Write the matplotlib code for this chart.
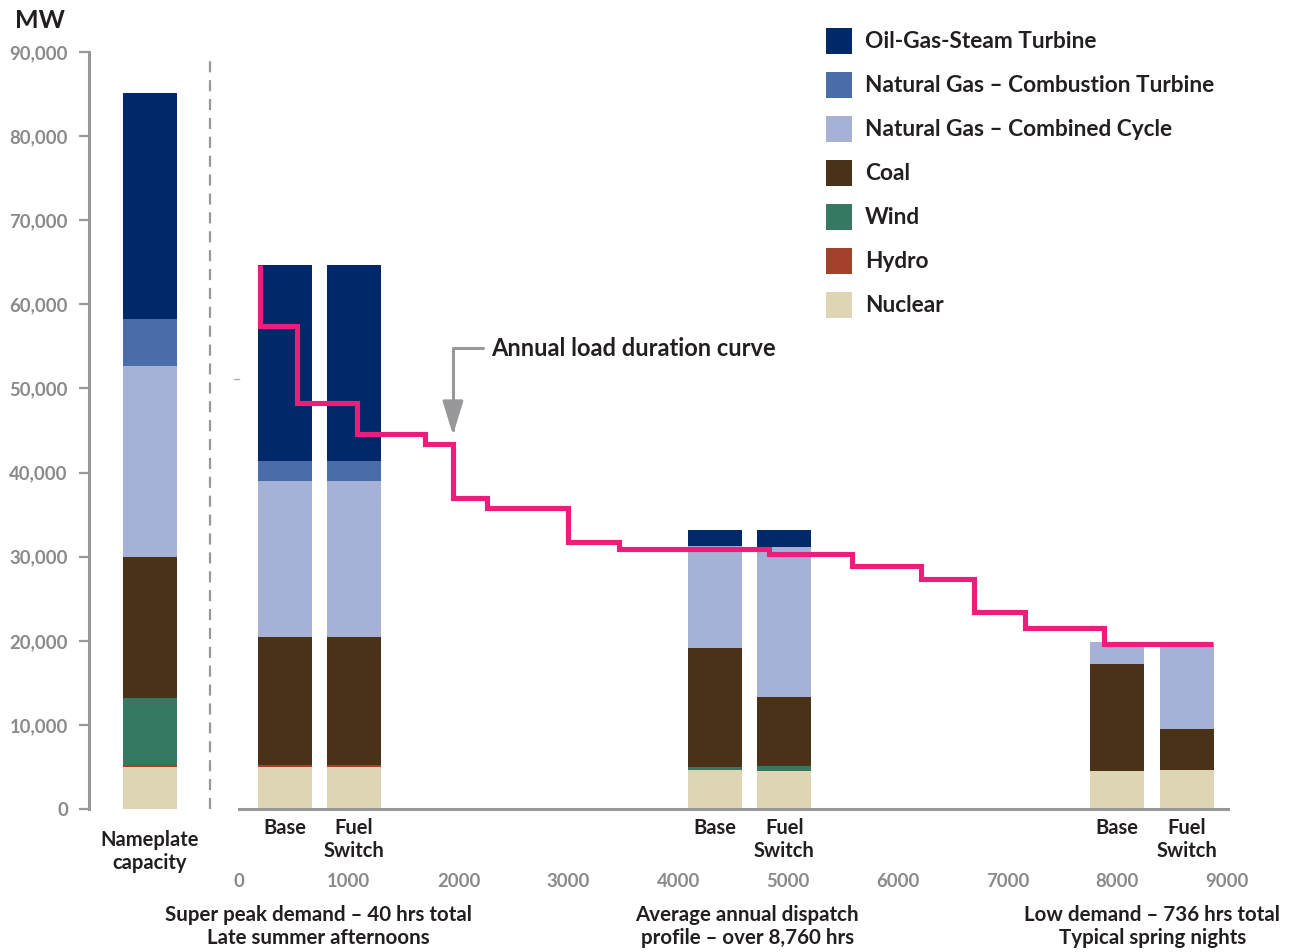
import matplotlib
matplotlib.use("Agg")
import matplotlib.pyplot as plt
import numpy as np

plt.rcParams['font.family'] = ['Lato', 'DejaVu Sans']

# ---------------- data ----------------
sources = ["Nuclear", "Hydro", "Wind", "Coal",
           "Natural Gas – Combined Cycle", "Natural Gas – Combustion Turbine",
           "Oil-Gas-Steam Turbine"]
colors = ["#ddd5b4", "#a5402a", "#377863", "#4a3218", "#a5b1d5", "#4a6ca8", "#012868"]

# bar positions (hours on the x axis; nameplate sits left of zero)
bar_pos = [-811, 419, 1047, 4335, 4968, 7996, 8634]
bar_labels = ["Nameplate\ncapacity", "Base", "Fuel\nSwitch", "Base", "Fuel\nSwitch", "Base", "Fuel\nSwitch"]

# MW by source for each bar (order = sources)
nuclear = [5000, 5000, 5000, 4640, 4520, 4560, 4640]
hydro   = [250, 250, 250, 0, 0, 0, 0]
wind    = [8000, 0, 0, 350, 630, 0, 0]
coal    = [16750, 15250, 15250, 14190, 8200, 12640, 4870]
ngcc    = [22700, 18550, 18550, 12100, 17840, 2620, 10090]
ngct    = [5550, 2350, 2350, 0, 0, 0, 0]
ogst    = [26900, 23300, 23300, 1900, 1980, 0, 0]

# annual load duration curve (hours, MW), steps-post
ldc_hours = [191, 191, 528, 1075, 1694, 1949, 2259, 2996, 3461, 4827, 5583, 6211, 6694, 7158, 7878, 8871]
ldc_mw    = [64700, 57430, 48280, 44590, 43400, 36980, 35790, 31750, 30920, 30320, 28890, 27350,
             23420, 21520, 19620, 19620]

xticks = [0, 1000, 2000, 3000, 4000, 5000, 6000, 7000, 8000, 9000]
yticks = [0, 10000, 20000, 30000, 40000, 50000, 60000, 70000, 80000, 90000]

group_labels = ["Super peak demand – 40 hrs total\nLate summer afternoons",
                "Average annual dispatch\nprofile – over 8,760 hrs",
                "Low demand – 736 hrs total\nTypical spring nights"]
group_x = [725, 4630, 8320]

# ---------------- figure ----------------
W, H = 1293, 952
fig = plt.figure(figsize=(W / 100, H / 100), dpi=100)
ax = fig.add_axes([89 / W, 1 - 809 / H, (1228 - 89) / W, (809 - 52) / H])

px_per_h = 0.10978
ax.set_xlim(-(239 - 89) / px_per_h, (1228 - 239) / px_per_h)
ax.set_ylim(0, 90000)

TXT = "#231f20"
GRAY = "#98989b"

stack = [nuclear, hydro, wind, coal, ngcc, ngct, ogst]
bottom = np.zeros(len(bar_pos))
for vals, c, name in zip(stack, colors, sources):
    ax.bar(bar_pos, vals, width=492, bottom=bottom, color=c, linewidth=0, zorder=2)
    bottom += np.array(vals)

ax.plot(ldc_hours, ldc_mw, drawstyle="steps-post", color="#ec1e7b", lw=3.7,
        solid_joinstyle="miter", solid_capstyle="butt", zorder=4)

# dashed separator
ax.plot([-264, -264], [0, 89000], color=GRAY, lw=1.6, dashes=(5, 3.5), zorder=1, clip_on=False)
# small stray tick seen in the original
ax.plot([-45, 0], [51130, 51130], color="#b0b0b2", lw=1.0, zorder=1)

# spines
for s in ["top", "right"]:
    ax.spines[s].set_visible(False)
ax.spines["left"].set_color(GRAY)
ax.spines["left"].set_linewidth(2.2)
ax.spines["bottom"].set_color(GRAY)
ax.spines["bottom"].set_linewidth(2.2)
ax.spines["bottom"].set_bounds(0, 9009)

ax.set_yticks(yticks)
ax.set_yticklabels([f"{v:,}" for v in yticks])
ax.tick_params(axis="y", length=7.2, width=1.6, color=GRAY, pad=8,
               labelsize=13.3, labelcolor="#8a8a8c")
for t in ax.get_yticklabels():
    t.set_fontweight("bold")

ax.set_xticks(xticks)
ax.set_xticklabels([str(v) for v in xticks])
ax.tick_params(axis="x", length=0, pad=46, labelsize=13.3, labelcolor="#8a8a8c")
for t in ax.get_xticklabels():
    t.set_fontweight("bold")

# bar labels
for i, (x, lab) in enumerate(zip(bar_pos, bar_labels)):
    off = -15 if i == 0 else -6.5
    ax.annotate(lab, xy=(x, 0), xycoords="data", xytext=(0, off), textcoords="offset points",
                ha="center", va="top", fontsize=14.5, fontweight="bold", color=TXT,
                linespacing=1.2)

# group labels
for x, lab in zip(group_x, group_labels):
    ax.annotate(lab, xy=(x, 0), xycoords="data", xytext=(0, -69), textcoords="offset points",
                ha="center", va="top", fontsize=14.8, fontweight="bold", color=TXT,
                linespacing=1.22)

# MW label
fig.text(15 / W, 1 - 21 / H, "MW", fontsize=18, fontweight="bold", color=TXT, va="center", ha="left")

# annotation
ax.annotate("Annual load duration curve", xy=(1949, 44470), xytext=(2295, 54800),
            fontsize=17, fontweight="bold", color=TXT, va="center", ha="left",
            arrowprops=dict(arrowstyle="-|>,head_length=1.3,head_width=0.4",
                            connectionstyle="angle,angleA=180,angleB=90,rad=0",
                            color=GRAY, lw=2.2, shrinkA=4, shrinkB=0, mutation_scale=16))

# legend (custom, top-right)
legend_order = [6, 5, 4, 3, 2, 1, 0]
for i, k in enumerate(legend_order):
    yc = 41 + 44 * i
    fig.patches.append(plt.Rectangle((826 / W, 1 - (yc + 13) / H), 26 / W, 26 / H,
                                     transform=fig.transFigure, color=colors[k], lw=0))
    fig.text(865 / W, 1 - (yc + 1) / H, sources[k], fontsize=16.3, fontweight="bold", color=TXT,
             va="center", ha="left")

fig.savefig("out.png", dpi=100)
